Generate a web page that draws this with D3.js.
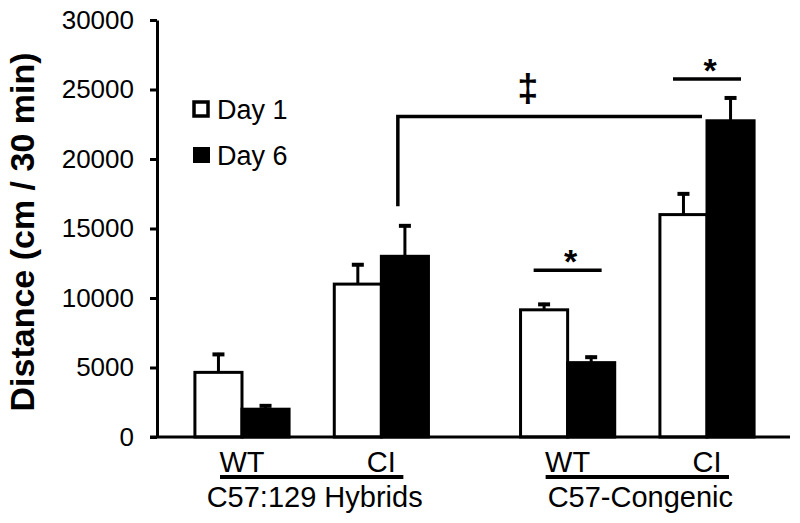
<!DOCTYPE html>
<html>
<head>
<meta charset="utf-8">
<script src="https://cdn.jsdelivr.net/npm/d3@7"></script>
<style>
	body { margin: 0; background: #ffffff; }
	svg { display: block; }
	text { font-family: "Liberation Sans", Arial, sans-serif; fill: #000000; }
</style>
</head>
<body>
<svg id="chart" width="800" height="523"></svg>
<script>
// groups along the x axis
var strains = ["C57:129 Hybrids", "C57-Congenic"];
var genotypes = ["WT", "CI"];
var days = ["Day 1", "Day 6"];

// means and SEM, order: hybrid WT, hybrid CI, congenic WT, congenic CI
var day1Means = [4650, 11000, 9150, 16000];
var day1Errors = [1400, 1500, 500, 1600];
var day6Means = [2000, 13000, 5350, 22750];
var day6Errors = [350, 2300, 500, 1750];

var yTicks = [0, 5000, 10000, 15000, 20000, 25000, 30000];

var svg = d3.select("#chart");

var y = d3.scaleLinear()
	.domain([0, 30000])
	.range([437, 20]);

var x0 = d3.scaleBand()
	.domain(strains)
	.range([157, 792])
	.paddingInner(0.144)
	.paddingOuter(0.047);

var x1 = d3.scaleBand()
	.domain(genotypes)
	.range([0, x0.bandwidth()]);

var x2 = d3.scaleBand()
	.domain(days)
	.range([0, x1.bandwidth()])
	.paddingInner(0)
	.paddingOuter(0.48);

// flat list of bars
var bars = [];
strains.forEach(function(s, i) {
	genotypes.forEach(function(g, j) {
		var k = i * 2 + j;
		bars.push({strain: s, geno: g, day: days[0], mean: day1Means[k], err: day1Errors[k]});
		bars.push({strain: s, geno: g, day: days[1], mean: day6Means[k], err: day6Errors[k]});
	});
});

function barX(d) {
	return x0(d.strain) + x1(d.geno) + x2(d.day);
}

function pairCenter(s, g) {
	return x0(s) + x1(g) + x1.bandwidth() / 2;
}

/* Y AXIS */
var yAxis = svg.append("g")
	.attr("transform", "translate(157,0)")
	.call(d3.axisLeft(y)
		.tickValues(yTicks)
		.tickFormat(d3.format("d"))
		.tickSize(7)
		.tickSizeOuter(0)
		.tickPadding(16));

yAxis.select(".domain")
	.attr("stroke", "#000")
	.attr("stroke-width", 3);
yAxis.selectAll(".tick line")
	.attr("stroke", "#000")
	.attr("stroke-width", 3);
yAxis.selectAll(".tick text")
	.attr("font-family", "'Liberation Sans', Arial, sans-serif")
	.attr("font-size", "26px")
	.attr("fill", "#000");

svg.append("text")
	.attr("transform", "translate(34," + 232 + ") rotate(-90)")
	.attr("text-anchor", "middle")
	.attr("font-size", "34px")
	.attr("font-weight", "bold")
	.text("Distance (cm / 30 min)");

/* BARS */
svg.append("g")
	.selectAll("rect")
	.data(bars)
	.enter()
	.append("rect")
	.attr("x", barX)
	.attr("y", function(d) {
		return y(d.mean);
	})
	.attr("width", x2.bandwidth())
	.attr("height", function(d) {
		return y(0) - y(d.mean);
	})
	.attr("fill", function(d) {
		return d.day === days[0] ? "#ffffff" : "#000000";
	})
	.attr("stroke", "#000")
	.attr("stroke-width", 3);

/* ERROR BARS */
var errG = svg.append("g")
	.selectAll("g")
	.data(bars)
	.enter()
	.append("g");

errG.append("line")
	.attr("x1", function(d) { return barX(d) + x2.bandwidth() / 2; })
	.attr("x2", function(d) { return barX(d) + x2.bandwidth() / 2; })
	.attr("y1", function(d) { return y(d.mean); })
	.attr("y2", function(d) { return y(d.mean + d.err); })
	.attr("stroke", "#000")
	.attr("stroke-width", 3);

errG.append("line")
	.attr("x1", function(d) { return barX(d) + x2.bandwidth() / 2 - 6; })
	.attr("x2", function(d) { return barX(d) + x2.bandwidth() / 2 + 6; })
	.attr("y1", function(d) { return y(d.mean + d.err) + 1.5; })
	.attr("y2", function(d) { return y(d.mean + d.err) + 1.5; })
	.attr("stroke", "#000")
	.attr("stroke-width", 4);

/* X BASELINE */
svg.append("line")
	.attr("x1", 150)
	.attr("x2", 790)
	.attr("y1", y(0))
	.attr("y2", y(0))
	.attr("stroke", "#000")
	.attr("stroke-width", 3);

/* X LABELS */
strains.forEach(function(s) {
	genotypes.forEach(function(g) {
		svg.append("text")
			.attr("x", pairCenter(s, g))
			.attr("y", 472)
			.attr("text-anchor", "middle")
			.attr("font-size", "29px")
			.text(g);
	});
	var left = pairCenter(s, genotypes[0]) - 22;
	var right = pairCenter(s, genotypes[1]) + 22;
	svg.append("line")
		.attr("x1", left)
		.attr("x2", right)
		.attr("y1", 477)
		.attr("y2", 477)
		.attr("stroke", "#000")
		.attr("stroke-width", 4);
	svg.append("text")
		.attr("x", x0(s) + x0.bandwidth() / 2 + 3)
		.attr("y", 507)
		.attr("text-anchor", "middle")
		.attr("font-size", "29px")
		.text(s);
});

/* LEGEND */
var legend = svg.append("g")
	.selectAll("g")
	.data(days)
	.enter()
	.append("g")
	.attr("transform", function(d, i) {
		return "translate(193," + (101 + i * 46) + ")";
	});

legend.append("rect")
	.attr("x", function(d, i) { return i === 0 ? 1 : 0; })
	.attr("y", function(d, i) { return i === 0 ? 1 : 0; })
	.attr("width", function(d, i) { return i === 0 ? 14 : 17; })
	.attr("height", function(d, i) { return i === 0 ? 14 : 16; })
	.attr("fill", function(d, i) { return i === 0 ? "#fff" : "#000"; })
	.attr("stroke", function(d, i) { return i === 0 ? "#000" : "none"; })
	.attr("stroke-width", 3.5);

legend.append("text")
	.attr("x", 24)
	.attr("y", 18)
	.attr("font-size", "27px")
	.text(function(d) { return d; });

/* SIGNIFICANCE MARKS */
var hybCI = bars[3];
var conCI = bars[7];
var bracketY = y(23050);
var bracketLeft = barX(hybCI) + x2.bandwidth() * 0.35;
var bracketRight = barX(conCI) - 5;

svg.append("path")
	.attr("d", "M" + bracketLeft + "," + y(16600) +
		"L" + bracketLeft + "," + bracketY +
		"L" + bracketRight + "," + bracketY)
	.attr("fill", "none")
	.attr("stroke", "#000")
	.attr("stroke-width", 3.5);

svg.append("text")
	.attr("x", (bracketLeft + bracketRight) / 2 - 22)
	.attr("y", 101)
	.attr("text-anchor", "middle")
	.attr("font-size", "38px")
	.attr("font-weight", "bold")
	.text("\u2021");

var starMarks = [
	{s: strains[1], g: genotypes[0], level: 12000},
	{s: strains[1], g: genotypes[1], level: 25750}
];

starMarks.forEach(function(m) {
	var cx = pairCenter(m.s, m.g);
	svg.append("line")
		.attr("x1", cx - 34)
		.attr("x2", cx + 34)
		.attr("y1", y(m.level))
		.attr("y2", y(m.level))
		.attr("stroke", "#000")
		.attr("stroke-width", 3.5);
	svg.append("text")
		.attr("x", cx + 3)
		.attr("y", y(m.level) + 14)
		.attr("text-anchor", "middle")
		.attr("dy", "-11px")
		.attr("font-size", "34px")
		.attr("font-weight", "bold")
		.text("*");
});
</script>
</body>
</html>
